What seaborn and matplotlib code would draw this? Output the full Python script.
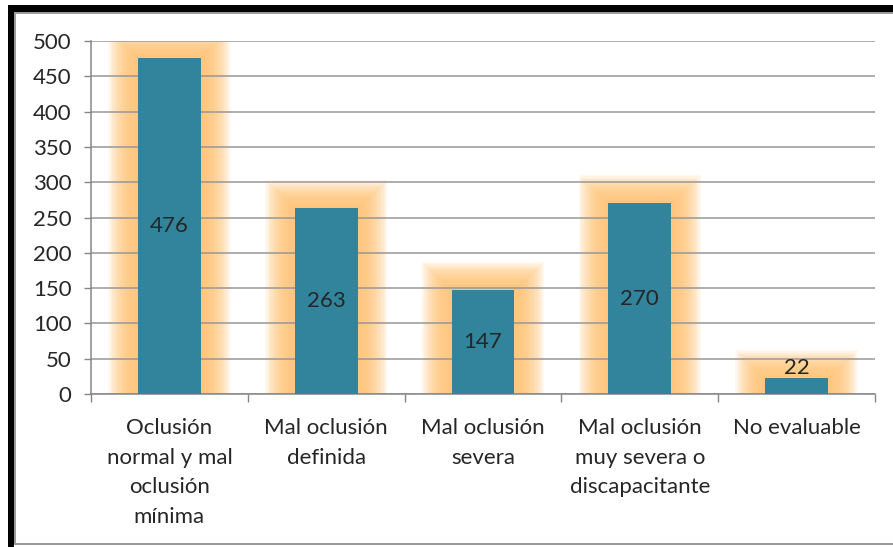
import numpy as np
import pandas as pd
import seaborn as sns
import matplotlib
matplotlib.use('Agg')
import matplotlib.pyplot as plt
from matplotlib.patches import Rectangle

categories = ['Oclusión\nnormal y mal\noclusión\nmínima', 'Mal oclusión\ndefinida',
              'Mal oclusión\nsevera', 'Mal oclusión\nmuy severa o\ndiscapacitante',
              'No evaluable']
values = [476, 263, 147, 270, 22]
yticks = list(range(0, 501, 50))

bar_color = '#31849B'
glow_color = '#FFC474'
grid_color = '#979797'

df = pd.DataFrame({'cat': categories, 'val': values})

sns.set_style('white')
plt.rcParams['font.family'] = ['Lato', 'DejaVu Sans']

fig = plt.figure(figsize=(8.93, 5.47), dpi=100)
ax = fig.add_axes([91 / 893, 1 - 394 / 547, (875 - 91) / 893, (394 - 41) / 547])

# orange glow behind the bars (layered translucent bars)
n = 22
for k in range(n):
    t = k / (n - 1)
    ex = 0.02 + 0.17 * t
    ey = 4 + 36 * t
    ax.bar(np.arange(len(values)), np.array(values) + ey, width=0.4 + 2 * ex,
           color=glow_color, alpha=0.095, linewidth=0, zorder=1)

sns.barplot(data=df, x='cat', y='val', color=bar_color, saturation=1,
            width=0.4, ax=ax, zorder=3, linewidth=0)

ax.set_ylim(0, 500)
ax.set_xlim(-0.5, len(values) - 0.5)
ax.set_yticks(yticks)
ax.set_axisbelow('line')
ax.grid(axis='y', color=grid_color, linewidth=1.1, zorder=2)
ax.set_xlabel('')
ax.set_ylabel('')

for s in ['top', 'right']:
    ax.spines[s].set_visible(False)
for s in ['left', 'bottom']:
    ax.spines[s].set_color('#868686')
    ax.spines[s].set_linewidth(1.1)

ax.tick_params(axis='y', which='major', length=5, width=1, color='#868686',
               labelsize=16, pad=9, left=True)
ax.tick_params(axis='x', which='major', length=0, labelsize=16, pad=17)
ax.set_xticks(np.arange(-0.5, len(values)), minor=True)
ax.tick_params(axis='x', which='minor', length=6, width=1, color='#868686', bottom=True)
for lbl in ax.get_xticklabels():
    lbl.set_linespacing(1.62)
    lbl.set_va('top')

for i, v in enumerate(values):
    if v > 60:
        ax.text(i, v / 2, str(v), ha='center', va='center', fontsize=16, zorder=4)
    else:
        ax.text(i, v + 1, str(v), ha='center', va='bottom', fontsize=16, zorder=4)

# chart frame with shadow
W, H = 893.0, 547.0
def px_rect(x0, y0, x1, y1, color):
    fig.add_artist(Rectangle((x0 / W, 1 - y1 / H), (x1 - x0) / W, (y1 - y0) / H,
                             transform=fig.transFigure, color=color, linewidth=0))

px_rect(8, 5, 893, 12, 'black')
px_rect(8, 5, 14, 547, 'black')
px_rect(14, 12, 893, 14, '#9A9A9A')
px_rect(14, 12, 16, 545, '#9A9A9A')
px_rect(14, 543, 893, 545, '#9A9A9A')

fig.savefig('out.png', dpi=100)
